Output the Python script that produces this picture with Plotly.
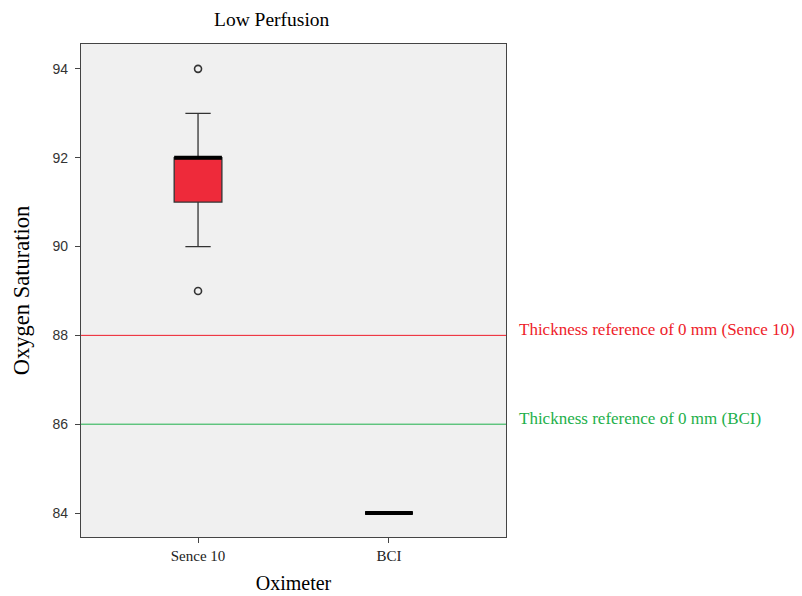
import plotly.graph_objects as go

# ---- data ----
categories = ["Sence 10", "BCI"]
q1 = [91, 84]
median = [92, 84]
q3 = [92, 84]
lower_whisker = [90, 84]
upper_whisker = [93, 84]
outlier_x = ["Sence 10", "Sence 10"]
outlier_y = [94, 89]
ref_values = [88, 86]
ref_labels = ["Thickness reference of 0 mm (Sence 10)", "Thickness reference of 0 mm (BCI)"]
ref_colors = ["#EE1C2A", "#1DB04A"]
yticks = [84, 86, 88, 90, 92, 94]

box_width = 0.25
xpos = list(range(len(categories)))
cat_index = {c: i for i, c in enumerate(categories)}

fig = go.Figure()

# Sence 10 box (red)
fig.add_trace(go.Box(
    x=[xpos[0]], q1=[q1[0]], median=[median[0]], q3=[q3[0]],
    lowerfence=[lower_whisker[0]], upperfence=[upper_whisker[0]],
    width=box_width, whiskerwidth=0.53,
    fillcolor="#EE2A3A", line=dict(color="#333333", width=1.3),
    showlegend=False, hoverinfo="skip"))

# BCI box (degenerate)
fig.add_trace(go.Box(
    x=[xpos[1]], q1=[q1[1]], median=[median[1]], q3=[q3[1]],
    lowerfence=[lower_whisker[1]], upperfence=[upper_whisker[1]],
    width=box_width, whiskerwidth=0.53,
    fillcolor="#EE2A3A", line=dict(color="black", width=1),
    showlegend=False, hoverinfo="skip"))

# thick median lines
for i in xpos:
    fig.add_trace(go.Scatter(
        x=[i - box_width / 2, i + box_width / 2], y=[median[i], median[i]],
        mode="lines", line=dict(color="black", width=4),
        showlegend=False, hoverinfo="skip"))

# outliers
fig.add_trace(go.Scatter(
    x=[cat_index[c] for c in outlier_x], y=outlier_y, mode="markers",
    marker=dict(symbol="circle-open", size=7, color="#333333", line=dict(width=1.6)),
    showlegend=False, hoverinfo="skip"))

# reference lines and labels
for v, lab, col in zip(ref_values, ref_labels, ref_colors):
    fig.add_shape(type="line", xref="paper", x0=0, x1=1, yref="y", y0=v, y1=v,
                  line=dict(color=col, width=1))
    fig.add_annotation(xref="paper", x=1.025, yref="y", y=v, yshift=6, text=lab,
                       showarrow=False, xanchor="left", yanchor="middle",
                       font=dict(family="Liberation Serif", size=17, color=col))

# title
fig.add_annotation(xref="paper", x=0.45, yref="paper", y=1.0, yshift=25,
                   text="Low Perfusion", showarrow=False, xanchor="center", yanchor="middle",
                   font=dict(family="Liberation Serif", size=19.5, color="black"))

fig.update_layout(
    width=802, height=596,
    margin=dict(l=81, r=296, t=44, b=59),
    paper_bgcolor="white", plot_bgcolor="#F0F0F0",
    xaxis=dict(range=[-0.613, 1.613], tickvals=xpos, ticktext=categories,
               automargin=False,
               showgrid=False, zeroline=False, ticks="outside", ticklen=5,
               tickcolor="#444", showline=True, linecolor="#444", linewidth=1.3, mirror=True,
               tickfont=dict(family="Liberation Serif", size=15, color="#222"),
               title=dict(text="Oximeter", standoff=12,
                          font=dict(family="Liberation Serif", size=20, color="black"))),
    yaxis=dict(range=[83.46, 94.56], tickvals=yticks,
               automargin=False,
               showgrid=False, zeroline=False, ticks="outside", ticklen=5,
               ticklabelstandoff=4,
               tickcolor="#444", showline=True, linecolor="#444", linewidth=1.3, mirror=True,
               tickfont=dict(family="Liberation Sans", size=14, color="#333"),
               title=dict(text="Oxygen Saturation", standoff=16,
                          font=dict(family="Liberation Serif", size=22.5, color="black"))),
)

fig.write_html("out.html")
